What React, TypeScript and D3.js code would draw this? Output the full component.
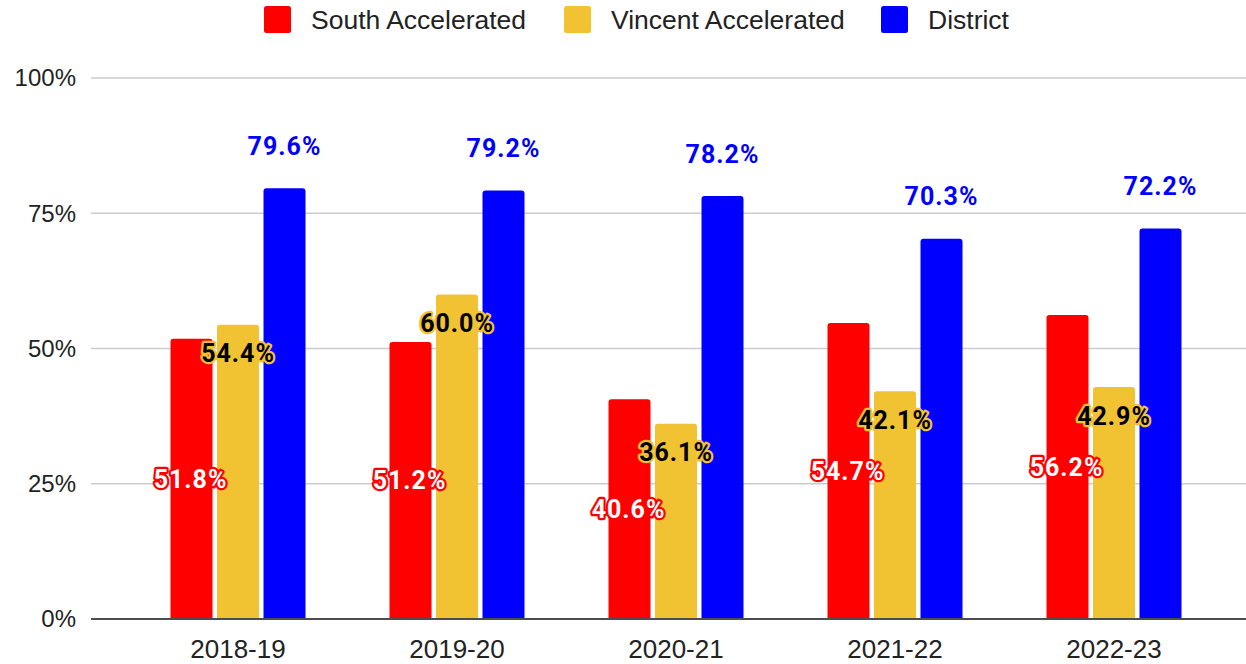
import React, { useEffect, useRef } from "react";
import * as d3 from "d3";

const categories = ["2018-19", "2019-20", "2020-21", "2021-22", "2022-23"];
const seriesNames = ["South Accelerated", "Vincent Accelerated", "District"];
const southValues = [51.8, 51.2, 40.6, 54.7, 56.2];
const vincentValues = [54.4, 60.0, 36.1, 42.1, 42.9];
const districtValues = [79.6, 79.2, 78.2, 70.3, 72.2];
const yTicks = [0, 25, 50, 75, 100];
const colors = ["#ff0000", "#f1c232", "#0000ff"];

const W = 1246;
const H = 664;

// rounded-top bar path
const barPath = (x: number, y: number, w: number, h: number, r: number) => {
  const rr = Math.min(r, h, w / 2);
  return `M${x},${y + h}V${y + rr}Q${x},${y} ${x + rr},${y}H${x + w - rr}Q${x + w},${y} ${x + w},${y + rr}V${y + h}Z`;
};

const App = () => {
  const svgRef = useRef<SVGSVGElement>(null);

  useEffect(() => {
    const svg = d3.select(svgRef.current);
    svg.selectAll("*").remove();

    const values = [southValues, vincentValues, districtValues];
    const rows = categories.map((c, i) => ({
      cat: c,
      vals: seriesNames.map((s, j) => ({ series: s, idx: j, value: values[j][i] })),
    }));

    const y = d3.scaleLinear().domain([0, 100]).range([619, 78]);
    const x0 = d3.scaleBand().domain(categories).range([128.5, 1223.5]).padding(0);
    const x1 = d3
      .scaleBand()
      .domain(seriesNames)
      .range([-67.5, 67.5])
      .paddingInner(4.5 / 46.5)
      .paddingOuter(0);

    // gridlines + y labels
    const grid = svg.append("g");
    yTicks.forEach((t) => {
      if (t === 0) return;
      grid
        .append("line")
        .attr("x1", 91)
        .attr("x2", 1246)
        .attr("y1", y(t))
        .attr("y2", y(t))
        .attr("stroke", "#cccccc")
        .attr("stroke-width", 1.5);
    });
    grid
      .selectAll("text")
      .data(yTicks)
      .join("text")
      .attr("x", 76)
      .attr("y", (d) => y(d))
      .attr("dy", "0.35em")
      .attr("text-anchor", "end")
      .attr("font-family", "Liberation Sans, Arial, sans-serif")
      .attr("font-size", 24)
      .attr("fill", "#222")
      .text((d) => `${d}%`);

    // bars
    const groups = svg
      .selectAll("g.cat")
      .data(rows)
      .join("g")
      .attr("class", "cat")
      .attr("transform", (d) => `translate(${x0(d.cat)! + x0.bandwidth() / 2},0)`);

    groups
      .selectAll("path")
      .data((d) => d.vals)
      .join("path")
      .attr("d", (d) =>
        barPath(x1(d.series)!, y(d.value), x1.bandwidth(), y(0) - y(d.value), 3)
      )
      .attr("fill", (d) => colors[d.idx]);

    // baseline
    svg
      .append("line")
      .attr("x1", 91)
      .attr("x2", 1246)
      .attr("y1", y(0))
      .attr("y2", y(0))
      .attr("stroke", "#4d4d4d")
      .attr("stroke-width", 2);

    // x labels
    svg
      .selectAll("text.xlab")
      .data(categories)
      .join("text")
      .attr("class", "xlab")
      .attr("x", (d) => x0(d)! + x0.bandwidth() / 2)
      .attr("y", 649)
      .attr("dy", "0.35em")
      .attr("text-anchor", "middle")
      .attr("font-family", "Liberation Sans, Arial, sans-serif")
      .attr("font-size", 26)
      .attr("fill", "#222")
      .text((d) => d);

    // data labels
    const labelStyle = [
      { fill: "#ffffff", stroke: "#ff0000" },
      { fill: "#000000", stroke: "#f1c232" },
      { fill: "#0000ff", stroke: "none" },
    ];
    groups
      .selectAll("text")
      .data((d) => d.vals)
      .join("text")
      .attr("x", (d) => x1(d.series)! + x1.bandwidth() / 2 - (d.idx === 0 ? 1 : 0))
      .attr("y", (d) => {
        if (d.idx === 0) return (y(d.value) + y(0)) / 2;
        if (d.idx === 1) return y(d.value) + 29;
        return y(d.value) - 42;
      })
      .attr("dy", "0.35em")
      .attr("text-anchor", "middle")
      .attr("font-family", "Roboto, sans-serif")
      .attr("font-weight", 700)
      .attr("font-size", 25)
      .attr("letter-spacing", 1)
      .attr("fill", (d) => labelStyle[d.idx].fill)
      .attr("stroke", (d) => labelStyle[d.idx].stroke)
      .attr("stroke-width", 4.5)
      .attr("stroke-linejoin", "round")
      .attr("paint-order", "stroke")
      .text((d) => `${d.value.toFixed(1)}%`);

    // legend
    const legendX = [264, 564, 881];
    const legend = svg
      .selectAll("g.leg")
      .data(seriesNames)
      .join("g")
      .attr("class", "leg")
      .attr("transform", (d, i) => `translate(${legendX[i]},6)`);
    legend
      .append("rect")
      .attr("width", 27)
      .attr("height", 27)
      .attr("rx", 2.5)
      .attr("fill", (d, i) => colors[i]);
    legend
      .append("text")
      .attr("x", 47)
      .attr("y", 13.5)
      .attr("dy", "0.35em")
      .attr("font-family", "Liberation Sans, Arial, sans-serif")
      .attr("font-size", 26.5)
      .attr("fill", "#222")
      .text((d) => d);

    return () => {
      svg.selectAll("*").remove();
    };
  }, []);

  return (
    <svg
      ref={svgRef}
      width={W}
      height={H}
      style={{ position: "absolute", left: 0, top: 0, background: "#fff" }}
    />
  );
};

export default App;
